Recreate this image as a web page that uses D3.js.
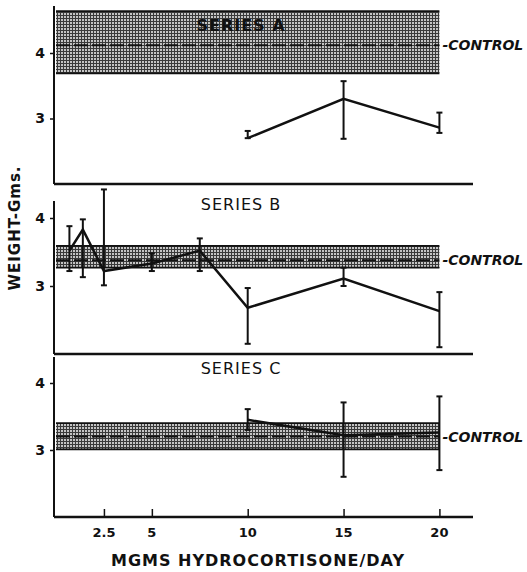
<!DOCTYPE html>
<html>
<head>
<meta charset="utf-8">
<script src="https://cdn.jsdelivr.net/npm/d3@7"></script>
<style>
  body { margin: 0; background: #fff; }
  svg { display: block; }
  text { font-family: "DejaVu Sans", sans-serif; fill: #111; }
</style>
</head>
<body>
<svg id="chart" width="527" height="572"></svg>
<script>
'use strict';

// series names and doses (mgms hydrocortisone / day)
const seriesNames = ["SERIES A", "SERIES B", "SERIES C"];
const dosesA = [10, 15, 20];
const meanA = [2.70, 3.30, 2.86];
const hiA = [2.81, 3.57, 3.09];
const loA = [2.70, 2.69, 2.78];

const dosesB = [0.7, 1.4, 2.5, 5, 7.5, 10, 15, 20];
const meanB = [3.52, 3.83, 3.22, 3.33, 3.52, 2.68, 3.11, 2.63];
const hiB = [3.88, 3.98, 4.42, 3.48, 3.70, 2.97, 3.27, 2.91];
const loB = [3.22, 3.13, 3.01, 3.22, 3.22, 2.15, 3.00, 2.10];

const dosesC = [10, 15, 20];
const meanC = [3.45, 3.22, 3.26];
const hiC = [3.61, 3.71, 3.80];
const loC = [3.30, 2.60, 2.70];

// control: [band low, dashed mean, band high]
const controlA = [3.69, 4.12, 4.64];
const controlB = [3.27, 3.38, 3.59];
const controlC = [3.01, 3.20, 3.40];

const xTicks = [2.5, 5, 10, 15, 20];
const xTickLabels = ["2.5", "5", "10", "15", "20"];
const yTicks = [3, 4];

const svg = d3.select("#chart");

const x = d3.scaleLinear().domain([0, 21.7]).range([56, 472]);

// hatch pattern for the control band
const defs = svg.append("defs");
const pat = defs.append("pattern")
  .attr("id", "hatch")
  .attr("patternUnits", "userSpaceOnUse")
  .attr("width", 3).attr("height", 3);
pat.append("rect").attr("width", 3).attr("height", 3).attr("fill", "#c4c4c4");
pat.append("path").attr("d", "M0,0.5H3M0.5,0V3")
  .attr("stroke", "#3a3a3a").attr("stroke-width", 1);

const panels = [
  { name: seriesNames[0], doses: dosesA, mean: meanA, hi: hiA, lo: loA, control: controlA,
    yRange: [184, 53], top: 6, titleY: 31, titleBold: true, xTicks: false },
  { name: seriesNames[1], doses: dosesB, mean: meanB, hi: hiB, lo: loB, control: controlB,
    yRange: [354, 218], top: 201, titleY: 210, titleBold: false, xTicks: false },
  { name: seriesNames[2], doses: dosesC, mean: meanC, hi: hiC, lo: loC, control: controlC,
    yRange: [517, 383], top: 357, titleY: 374, titleBold: false, xTicks: true }
];

panels.forEach(p => {
  const y = d3.scaleLinear().domain([2, 4]).range(p.yRange);
  const g = svg.append("g");
  const bottom = p.yRange[0];

  // control band
  g.append("rect")
    .attr("x", x(0))
    .attr("width", x(20) - x(0))
    .attr("y", y(p.control[2]))
    .attr("height", y(p.control[0]) - y(p.control[2]))
    .attr("fill", "url(#hatch)");
  [p.control[0], p.control[2]].forEach(v => {
    g.append("line")
      .attr("x1", x(0)).attr("x2", x(20))
      .attr("y1", y(v)).attr("y2", y(v))
      .attr("stroke", "#111").attr("stroke-width", 1.8);
  });
  g.append("line")
    .attr("x1", x(0)).attr("x2", x(20))
    .attr("y1", y(p.control[1])).attr("y2", y(p.control[1]))
    .attr("stroke", "#111").attr("stroke-width", 2)
    .attr("stroke-dasharray", "14,4");

  g.append("text")
    .attr("x", x(20) + 3)
    .attr("y", y(p.control[1]) + 5)
    .style("font-size", "14px")
    .style("font-weight", "bold")
    .style("font-style", "italic")
    .text("-CONTROL");

  // axes
  g.append("line")
    .attr("x1", 54).attr("x2", 54)
    .attr("y1", p.top).attr("y2", bottom)
    .attr("stroke", "#111").attr("stroke-width", 2);
  g.append("line")
    .attr("x1", 54).attr("x2", 473)
    .attr("y1", bottom).attr("y2", bottom)
    .attr("stroke", "#111").attr("stroke-width", 2.5);

  const yAxis = d3.axisLeft(y).tickValues(yTicks).tickSize(5).tickPadding(5).tickFormat(d3.format("d"));
  const ya = g.append("g").attr("transform", "translate(55,0)").call(yAxis);
  ya.select(".domain").remove();
  ya.selectAll("line").attr("stroke", "#111").attr("stroke-width", 1.5);
  ya.selectAll("text")
    .style("font-family", "DejaVu Sans, sans-serif")
    .style("font-size", "14px")
    .style("font-weight", "bold");

  if (p.xTicks) {
    const xAxis = d3.axisTop(x).tickValues(xTicks).tickSize(8).tickFormat("");
    const xa = g.append("g").attr("transform", `translate(0,${bottom})`).call(xAxis);
    xa.select(".domain").remove();
    xa.selectAll("line").attr("stroke", "#111").attr("stroke-width", 1.5);
    g.selectAll("text.xlab")
      .data(xTicks)
      .enter()
      .append("text")
      .attr("class", "xlab")
      .attr("x", d => x(d))
      .attr("y", bottom + 20)
      .attr("text-anchor", "middle")
      .style("font-size", "13px")
      .style("font-weight", "bold")
      .text((d, i) => xTickLabels[i]);
  }

  // series title
  g.append("text")
    .attr("x", 241)
    .attr("y", p.titleY)
    .attr("text-anchor", "middle")
    .style("font-size", "16px")
    .style("font-weight", p.titleBold ? "bold" : "normal")
    .style("letter-spacing", "1px")
    .text(p.name);

  // error bars
  const pts = p.doses.map((d, i) => ({ dose: d, m: p.mean[i], hi: p.hi[i], lo: p.lo[i] }));
  const eb = g.selectAll("g.eb").data(pts).enter().append("g").attr("class", "eb");
  eb.append("line")
    .attr("x1", d => x(d.dose)).attr("x2", d => x(d.dose))
    .attr("y1", d => y(d.hi)).attr("y2", d => y(d.lo))
    .attr("stroke", "#111").attr("stroke-width", 2);
  ["hi", "lo"].forEach(k => {
    eb.append("line")
      .attr("x1", d => x(d.dose) - 3).attr("x2", d => x(d.dose) + 3)
      .attr("y1", d => y(d[k])).attr("y2", d => y(d[k]))
      .attr("stroke", "#111").attr("stroke-width", 2);
  });

  // mean line
  const line = d3.line().x(d => x(d.dose)).y(d => y(d.m));
  g.append("path")
    .datum(pts)
    .attr("d", line)
    .attr("fill", "none")
    .attr("stroke", "#111")
    .attr("stroke-width", 2.5)
    .attr("stroke-linejoin", "miter");
});

// axis titles
svg.append("text")
  .attr("transform", "translate(20,228) rotate(-90)")
  .attr("text-anchor", "middle")
  .style("font-size", "15px")
  .style("font-weight", "bold")
  .style("letter-spacing", "1px")
  .text("WEIGHT-Gms.");

svg.append("text")
  .attr("x", 258)
  .attr("y", 566)
  .attr("text-anchor", "middle")
  .style("font-size", "16px")
  .style("font-weight", "bold")
  .style("letter-spacing", "1px")
  .text("MGMS HYDROCORTISONE/DAY");
</script>
</body>
</html>
